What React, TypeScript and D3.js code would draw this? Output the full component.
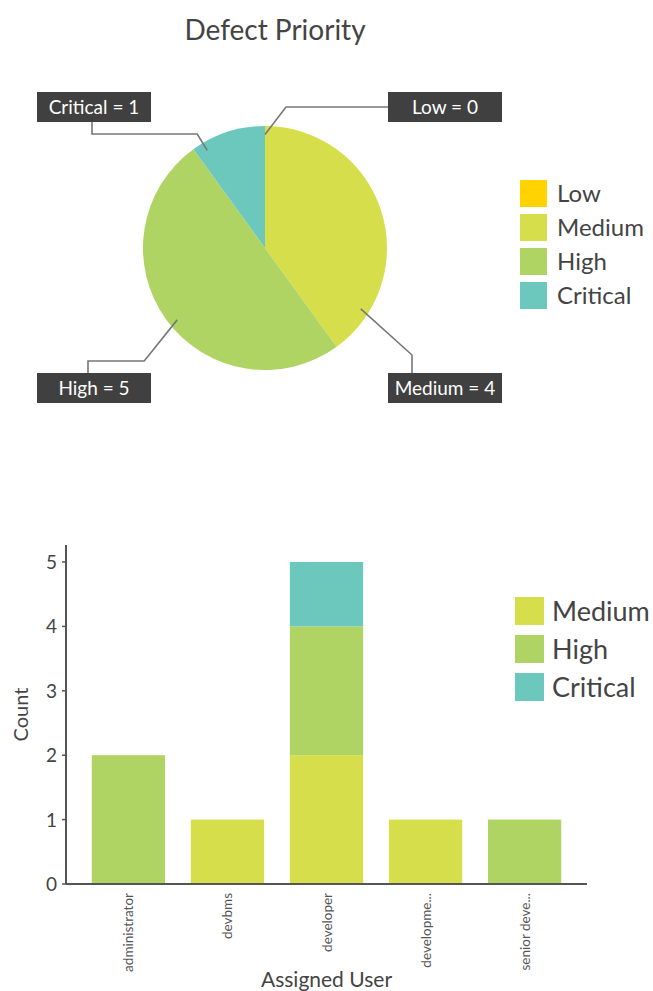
import { useEffect, useRef } from 'react';
import * as d3 from 'd3';

// pie data
const priorities = ['Low', 'Medium', 'High', 'Critical'];
const priorityCounts = [0, 4, 5, 1];
const priorityColors = ['#ffd200', '#d6df4b', '#b0d463', '#6cc8bd'];

// stacked bar data
const users = ['administrator', 'devbms', 'developer', 'developme...', 'senior deve...'];
const barSeries = ['Medium', 'High', 'Critical'];
const mediumCounts = [0, 1, 2, 1, 0];
const highCounts = [2, 0, 2, 0, 1];
const criticalCounts = [0, 0, 1, 0, 0];
const yTicks = [0, 1, 2, 3, 4, 5];

const FONT = 'Lato, "Open Sans", sans-serif';

const App = () => {
    const ref = useRef<SVGSVGElement>(null);
    const width = 653,
        height = 991;

    useEffect(() => {
        const svg = d3.select(ref.current).attr('width', width).attr('height', height);
        svg.selectAll('*').remove();
        svg.style('font-family', FONT);

        const colorOf = d3.scaleOrdinal<string, string>().domain(priorities).range(priorityColors);

        // ---------- pie ----------
        svg.append('text')
            .attr('x', 275)
            .attr('y', 40)
            .attr('text-anchor', 'middle')
            .attr('font-size', '28px')
            .attr('fill', '#444')
            .text('Defect Priority');

        const cx = 265,
            cy = 248,
            radius = 122;
        const pieData = priorities.map((p, i) => ({ label: p, value: priorityCounts[i] }));
        const pie = d3.pie<{ label: string; value: number }>().sort(null).value((d) => d.value);
        const arcs = pie(pieData);
        const arc = d3.arc<any>().innerRadius(0).outerRadius(radius);

        const pieG = svg.append('g').attr('transform', `translate(${cx},${cy})`);
        pieG.selectAll('path')
            .data(arcs)
            .enter()
            .append('path')
            .attr('d', arc)
            .attr('fill', (d) => colorOf(d.data.label));

        // label boxes + leader lines
        const boxW = 114,
            boxH = 30;
        const leftBoxX = 37,
            rightBoxX = 388;
        const topBoxY = 92,
            bottomBoxY = 373;
        const labelG = svg.append('g');
        const line = d3.line();

        // right side fills top -> bottom, left side bottom -> top (clockwise)
        const midOf = (a: any) => (a.startAngle + a.endAngle) / 2;
        const rightArcs = arcs.filter((a) => midOf(a) <= Math.PI);
        const leftArcs = arcs.filter((a) => midOf(a) > Math.PI);

        arcs.forEach((a) => {
            const span = a.endAngle - a.startAngle;
            const isLeft = midOf(a) > Math.PI;
            const isTop = isLeft ? leftArcs.indexOf(a) === 1 : rightArcs.indexOf(a) === 0;
            const bx = isLeft ? leftBoxX : rightBoxX;
            const by = isTop ? topBoxY : bottomBoxY;
            const bcx = bx + boxW / 2;
            const bcy = by + boxH / 2;

            // aim anchor toward the box, kept inside the slice
            const dir = Math.atan2(bcx - cx, -(bcy - cy));
            const dirN = dir < 0 ? dir + 2 * Math.PI : dir;
            const lo = a.startAngle + span * 0.15,
                hi = a.endAngle - span * 0.15;
            const ang = Math.max(lo, Math.min(hi, dirN));
            const ax = cx + Math.sin(ang) * radius * 0.93;
            const ay = cy - Math.cos(ang) * radius * 0.93;

            let pts: [number, number][];
            if (isLeft && isTop) {
                pts = [[ax, ay], [ax - 10, by + boxH + 12], [bcx - 2, by + boxH + 12], [bcx - 2, by + boxH]];
            } else if (!isLeft && isTop) {
                pts = [[ax, ay], [ax + 21, bcy], [bx, bcy]];
            } else if (!isLeft && !isTop) {
                pts = [[ax, ay], [bx + 24, by - 18], [bx + 24, by]];
            } else {
                pts = [[ax, ay], [ax - 33, by - 12], [bcx - 6, by - 12], [bcx - 6, by]];
            }
            labelG.append('path')
                .attr('d', line(pts))
                .attr('fill', 'none')
                .attr('stroke', '#777')
                .attr('stroke-width', 1.6);

            labelG.append('rect')
                .attr('x', bx)
                .attr('y', by)
                .attr('width', boxW)
                .attr('height', boxH)
                .attr('fill', '#404040');
            labelG.append('text')
                .attr('x', bcx)
                .attr('y', bcy + 7)
                .attr('text-anchor', 'middle')
                .attr('font-size', '19px')
                .attr('fill', '#fff')
                .text(`${a.data.label} = ${a.data.value}`);
        });

        // pie legend
        const pieLegend = svg.append('g').attr('transform', 'translate(520,180)');
        priorities.forEach((p, i) => {
            pieLegend.append('rect')
                .attr('x', 0)
                .attr('y', i * 34)
                .attr('width', 27)
                .attr('height', 27)
                .attr('fill', colorOf(p));
            pieLegend.append('text')
                .attr('x', 37)
                .attr('y', i * 34 + 22)
                .attr('font-size', '24px')
                .attr('fill', '#444')
                .text(p);
        });

        // ---------- stacked bars ----------
        const x0 = 66,
            x1 = 587,
            yTop = 545,
            yBottom = 884;
        const x = d3.scaleBand().domain(users).range([x0, x1]).paddingInner(0.26).paddingOuter(0.26);
        const y = d3.scaleLinear().domain([0, 5]).range([yBottom, 562]);

        const tableData = users.map((u, i) => ({
            user: u,
            Medium: mediumCounts[i],
            High: highCounts[i],
            Critical: criticalCounts[i],
        }));
        const stack = d3.stack<any>().keys(barSeries);
        const layers = stack(tableData);

        const barG = svg.append('g');
        layers.forEach((layer) => {
            barG.selectAll(null)
                .data(layer)
                .enter()
                .append('rect')
                .attr('x', (d: any) => x(d.data.user)!)
                .attr('width', x.bandwidth())
                .attr('y', (d: any) => y(d[1]))
                .attr('height', (d: any) => y(d[0]) - y(d[1]))
                .attr('fill', colorOf(layer.key));
        });

        // axes
        const axisG = svg.append('g');
        axisG.append('line')
            .attr('x1', x0)
            .attr('x2', x0)
            .attr('y1', yTop)
            .attr('y2', yBottom)
            .attr('stroke', '#555')
            .attr('stroke-width', 2);
        axisG.append('line')
            .attr('x1', x0)
            .attr('x2', x1)
            .attr('y1', yBottom)
            .attr('y2', yBottom)
            .attr('stroke', '#555')
            .attr('stroke-width', 2);

        yTicks.forEach((t) => {
            axisG.append('line')
                .attr('x1', x0 - 4)
                .attr('x2', x0)
                .attr('y1', y(t))
                .attr('y2', y(t))
                .attr('stroke', '#555')
                .attr('stroke-width', 1.5);
            axisG.append('text')
                .attr('x', x0 - 9)
                .attr('y', y(t) + 7)
                .attr('text-anchor', 'end')
                .attr('font-size', '19px')
                .attr('fill', '#444')
                .text(t);
        });

        users.forEach((u) => {
            const lx = x(u)! + x.bandwidth() / 2;
            axisG.append('text')
                .attr('transform', `translate(${lx + 5},${yBottom + 9}) rotate(-90)`)
                .attr('text-anchor', 'end')
                .attr('font-size', '13.5px')
                .attr('fill', '#555')
                .text(u);
        });

        axisG.append('text')
            .attr('x', (x0 + x1) / 2)
            .attr('y', 987)
            .attr('text-anchor', 'middle')
            .attr('font-size', '21px')
            .attr('fill', '#444')
            .text('Assigned User');
        axisG.append('text')
            .attr('transform', `translate(28,${(yTop + yBottom) / 2}) rotate(-90)`)
            .attr('text-anchor', 'middle')
            .attr('font-size', '20px')
            .attr('fill', '#444')
            .text('Count');

        // bar legend
        const barLegend = svg.append('g').attr('transform', 'translate(515,597)');
        barSeries.forEach((s, i) => {
            barLegend.append('rect')
                .attr('x', 0)
                .attr('y', i * 38)
                .attr('width', 29)
                .attr('height', 28)
                .attr('fill', colorOf(s));
            barLegend.append('text')
                .attr('x', 37)
                .attr('y', i * 38 + 24)
                .attr('font-size', '27px')
                .attr('fill', '#444')
                .text(s);
        });
    }, []);

    return <svg ref={ref} style={{ position: 'absolute', left: 0, top: 0 }}></svg>;
};

export default App;
